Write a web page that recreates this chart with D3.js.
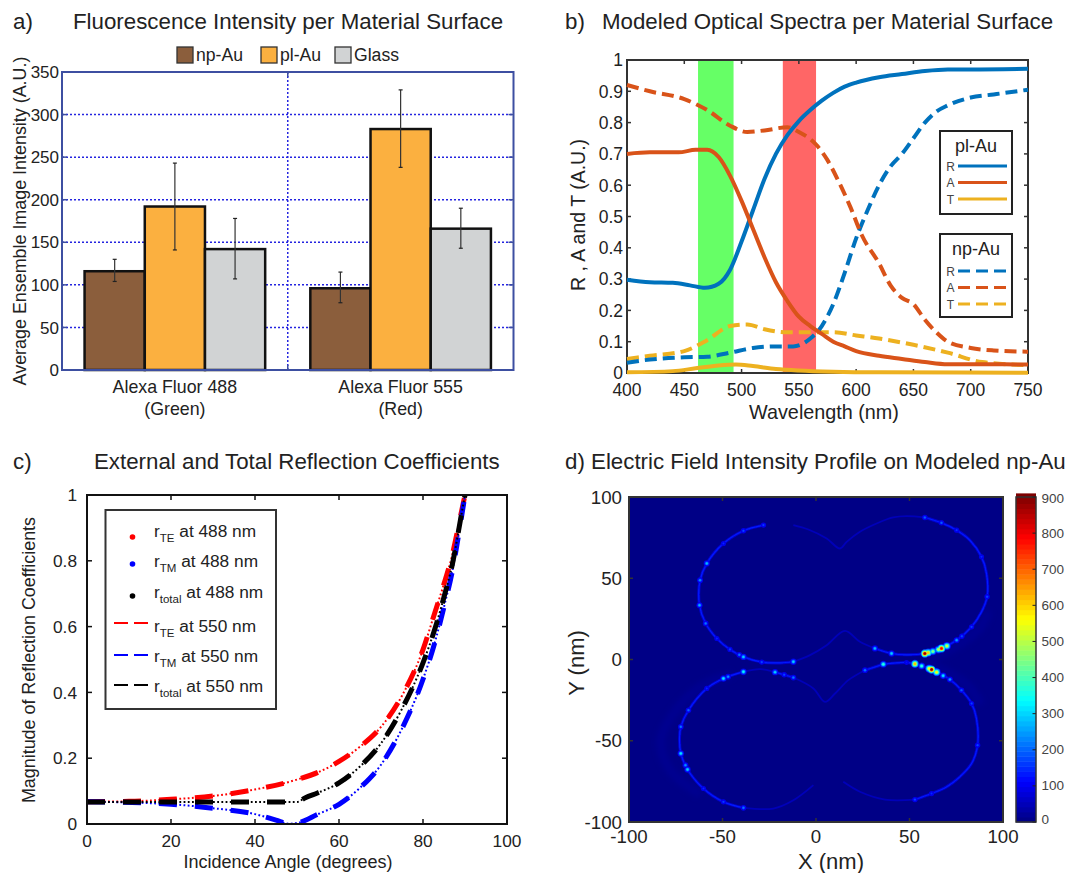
<!DOCTYPE html>
<html><head><meta charset="utf-8">
<script src="https://cdn.jsdelivr.net/npm/d3@7/dist/d3.min.js"></script>
<style>html,body{margin:0;background:#fff}svg{display:block}text{font-family:"Liberation Sans",Arial,sans-serif;fill:#222}</style>
</head><body><svg id="c" width="1067" height="873"></svg>
<script>
// Panel a
const dyes=["Alexa Fluor 488","Alexa Fluor 555"], dyeSub=["(Green)","(Red)"];
const surfaces=["np-Au","pl-Au","Glass"];
const surfaceColors=["#8b5e3c","#fbb040","#d1d3d4"];
const means=[[116,192,142],[96,283,166]];
const errLow=[[104,141,107],[79,238,143]];
const errHigh=[[130,243,178],[115,329,190]];
const aTicks=[0,50,100,150,200,250,300,350];
// Panel b
const waveR=[400,420,440,455,468,480,490,500,510,520,530,540,550,560,570,580,590,600,620,640,660,680,700,750];
const plR=[.298,.29,.288,.28,.272,.285,.33,.42,.52,.62,.70,.76,.805,.84,.87,.895,.915,.928,.945,.955,.965,.97,.97,.972];
const waveA=[400,420,445,460,470,480,490,500,510,520,530,540,550,560,570,580,590,600,620,640,660,680,700,750];
const plA=[.70,.705,.705,.713,.713,.69,.63,.55,.46,.37,.29,.23,.18,.15,.125,.10,.085,.07,.055,.045,.035,.028,.028,.027];
const waveT=[400,440,460,480,495,510,530,550,580,620,750];
const plT=[.002,.006,.015,.024,.027,.022,.013,.008,.004,.002,.001];
const waveNR=[400,420,450,470,490,510,530,545,560,570,580,590,600,610,620,630,640,650,660,670,680,700,720,750];
const npR=[.033,.043,.05,.052,.065,.08,.085,.085,.11,.15,.22,.32,.43,.52,.6,.66,.70,.75,.80,.835,.855,.88,.89,.905];
const waveNA=[400,420,450,470,490,505,520,540,550,565,575,585,595,605,620,630,640,650,660,670,680,700,720,750];
const npA=[.92,.90,.875,.84,.79,.77,.775,.785,.77,.73,.68,.61,.53,.44,.35,.28,.24,.22,.17,.13,.10,.08,.072,.068];
const waveNT=[400,420,450,470,490,505,520,540,560,580,600,620,650,680,710,750];
const npT=[.045,.055,.07,.105,.15,.155,.14,.13,.13,.13,.12,.11,.09,.065,.035,.025];
const greenBand=[462,493], redBand=[536,565];
const bYTicks=[0,.1,.2,.3,.4,.5,.6,.7,.8,.9,1], bXTicks=[400,450,500,550,600,650,700,750];
const bColors={R:"#0072bd",A:"#d95319",T:"#edb120"};
// Panel c
const angTE=[0,10,20,30,40,50,55,60,65,70,75,80,83,85,87,89,90];
const rTE=[.068,.069,.075,.085,.105,.135,.157,.19,.235,.295,.39,.53,.65,.73,.82,.94,1];
const angTM=[0,20,30,40,45,48,50,55,60,65,70,75,80,83,85,87,89,90];
const rTM=[.068,.06,.048,.03,.012,.001,.003,.03,.06,.11,.18,.29,.44,.56,.66,.77,.92,1];
const angTot=[0,20,40,50,52,55,60,65,70,75,80,83,85,87,89,90];
const rTot=[.067,.067,.067,.067,.08,.095,.125,.175,.245,.35,.49,.60,.69,.79,.93,1];
const cXTicks=[0,20,40,60,80,100], cYTicks=[0,.2,.4,.6,.8,1];
// Panel d: outlines read in nm [x,y]
const lobeStrong=[
 [[-28.1,82.7],[-38.8,79.2],[-49.5,71.4],[-58.4,59.1],[-62,48.8],[-62.3,33.4],[-59,22.2],[-53,12.9],[-46,6.2],[-38.8,1.6],[-29,-1.6],[-19.2,-2.1],[-12.1,-1.4]],
 [[31.5,6.8],[40.4,3.7],[48.4,2.9],[58.2,3.7],[67.1,6.8],[75.2,11.9],[83.2,20.1],[88.5,29.3],[91.5,38.6],[91.2,52.9],[88.5,63.2],[82.3,73.4],[75.2,79.6],[67.1,84.1],[58.2,87.4]],
 [[36,-2.9],[48.4,-1.8],[52.9,-2.7],[61.8,-6.2],[71.6,-12.3],[77.8,-18.9],[83.2,-27.1],[85.8,-36.3],[86.4,-52.7],[83.2,-64],[76.9,-72.2],[69.8,-78.4],[61.8,-82.5],[52.9,-86.2]],
 [[-38.8,-7.6],[-49.5,-11.7],[-58.4,-17.8],[-68.2,-31.2],[-72.3,-41.4],[-73,-48.6],[-72.3,-57.8],[-68.7,-67.7],[-60.2,-79.4],[-49.5,-87.6],[-38.8,-91.3]],
 [[26.2,-6.6],[36,-2.9]],
 [[-21.9,-7.8],[-12.1,-11.1]]
];
const lobeFaint=[
 [[-12.1,-1.4],[-3.2,2.7],[5.7,8.8],[15.5,17.6],[23.5,10.9],[31.5,6.8]],
 [[58.2,87.4],[48.4,88.2],[41.3,87.4],[32.4,83.7],[23.5,78.6],[16.4,72.4],[12.8,68.3],[5.7,74.5],[-4.1,80],[-12.1,82.7]],
 [[52.9,-86.2],[36.9,-86.2],[23.5,-81.4],[14.6,-75.3]],
 [[26.2,-6.6],[17.3,-12.7],[10.2,-20.9],[4.8,-26.1],[-1.4,-17.8],[-12.1,-11.1]],
 [[-38.8,-7.6],[-29.9,-5.9],[-21.9,-7.8]],
 [[-38.8,-91.3],[-22.8,-91.7],[-12.1,-86.6],[-1.4,-77.3]]
];
const halos=[
 [[-45,-9],[-62,-17],[-76,-33],[-83,-50],[-78,-68],[-62,-83]],
 [[62,1],[75,8],[88,20],[92,30]],
 [[58,-2],[72,-9],[82,-17],[88,-28]]
];
const hotspots=[[58.2,3.7,880],[60,4.2,600],[62.5,5,450],[67.1,6.8,800],[65.5,6.1,500],[70,8.3,520],[75.2,11.9,250],[78,14.3,180],[52.9,-2.7,620],[56.5,-4,380],[61.8,-6.2,880],[60.5,-5.6,560],[64.5,-7.8,550],[68,-10,320],[71.6,-12.3,250],
[40.4,3.7,300],[31.5,6.8,280],[36,-2.9,380],[26.2,-6.6,220],[-38.8,1.6,300],[-41,2.9,220],[-12.1,-1.4,300],[-29,-1.6,180],[-38.8,-7.6,340],[-49.5,-11.7,320],[-47,-10.6,240],[-21.9,-7.8,300],[-12.1,-11.1,220],[-17,-9.4,180],
[-58.4,59.1,280],[-62,48.8,240],[-62.3,33.4,270],[-59,22.2,220],[-72.3,-41.4,220],[-72.3,-57.8,320],[-68.7,-67.7,300],[-69.8,-65,240],[-68.2,-31.2,200],[-38.8,-91.3,220],[-49.5,-87.6,170],
[58.2,87.4,200],[67.1,84.1,200],[91.5,38.6,180],[86.4,-52.7,180],[52.9,-86.2,180],[-38.8,79.2,180],[-28.1,82.7,170],[-46,6.2,170],[-53,12.9,150],[-49.5,71.4,150],[-58.4,-17.8,150],[-60.2,-79.4,150],[83.2,-27.1,170],[77.8,-18.9,190],[61.8,-82.5,150],[75.2,79.6,160],[88.5,63.2,150],[83.2,20.1,170],[48.4,-1.8,120]];
const dTicks=[-100,-50,0,50,100], cbTicks=[0,100,200,300,400,500,600,700,800,900];
const backgroundValue=5;

const svg=d3.select("#c");
function title(x,y,t,size){svg.append("text").attr("x",x).attr("y",y).attr("font-size",size||22.3).text(t);}
function vlabel(x,y,t,size){svg.append("text").attr("transform",`translate(${x},${y}) rotate(-90)`).attr("text-anchor","middle").attr("font-size",size).text(t);}
function hlabel(x,y,t,size){svg.append("text").attr("x",x).attr("y",y).attr("text-anchor","middle").attr("font-size",size).text(t);}

function frame(g,x,y,xt,yt,o){
 const col=o.color, [x0,x1]=x.range(), [y0,y1]=y.range(), L=o.tick||4;
 const sw=o.tickWidth||1.5;
 xt.forEach(v=>{[[y0,y0-L],[y1,y1+L]].forEach(p=>g.append("line").attr("x1",x(v)).attr("x2",x(v)).attr("y1",p[0]).attr("y2",p[1]).attr("stroke",col).attr("stroke-width",sw));});
 yt.forEach(v=>{[[x0,x0+L],[x1,x1-L]].forEach(p=>g.append("line").attr("y1",y(v)).attr("y2",y(v)).attr("x1",p[0]).attr("x2",p[1]).attr("stroke",col).attr("stroke-width",sw));});
 g.append("rect").attr("x",x0).attr("y",y1).attr("width",x1-x0).attr("height",y0-y1).attr("fill","none").attr("stroke",col).attr("stroke-width",o.width||2);
 if(o.xLabels!==false) xt.forEach(v=>g.append("text").attr("x",x(v)).attr("y",y0+o.xdy).attr("text-anchor","middle").attr("font-size",o.fs).text(v));
 yt.forEach(v=>g.append("text").attr("x",x0-o.ydx).attr("y",y(v)+o.fs*.36).attr("text-anchor","end").attr("font-size",o.fs).text(+v.toFixed(1)));
}

/* ---------- a ---------- */
title(13,29,"a)");title(73,29,"Fluorescence Intensity per Material Surface");
{
 const g=svg.append("g"), L=62,R=513.5,T=72,B=370;
 const y=d3.scaleLinear().domain([0,350]).range([B,T]);
 const x0=d3.scaleBand().domain(dyes).range([L,R]).paddingInner(.2).paddingOuter(.1);
 const x1=d3.scaleBand().domain(surfaces).range([0,x0.bandwidth()]);
 const mid=(L+R)/2;
 aTicks.slice(1,-1).forEach(v=>g.append("line").attr("x1",L).attr("x2",R).attr("y1",y(v)).attr("y2",y(v)).attr("stroke","#2424e0").attr("stroke-width",1.5).attr("stroke-dasharray","2 2"));
 g.append("line").attr("x1",mid).attr("x2",mid).attr("y1",T).attr("y2",B).attr("stroke","#2424e0").attr("stroke-width",1.5).attr("stroke-dasharray","2 2");
 dyes.forEach((d,i)=>{
  surfaces.forEach((s,j)=>{
   const bx=x0(d)+x1(s);
   g.append("rect").attr("x",bx).attr("y",y(means[i][j])).attr("width",x1.bandwidth()).attr("height",y(0)-y(means[i][j])).attr("fill",surfaceColors[j]).attr("stroke","#111").attr("stroke-width",2.5);
  });
 });
 dyes.forEach((d,i)=>surfaces.forEach((s,j)=>{
  const cx=x0(d)+x1(s)+x1.bandwidth()/2;
  g.append("line").attr("x1",cx).attr("x2",cx).attr("y1",y(errLow[i][j])).attr("y2",y(errHigh[i][j])).attr("stroke","#333").attr("stroke-width",1.2);
  [errLow[i][j],errHigh[i][j]].forEach(v=>g.append("line").attr("x1",cx-2).attr("x2",cx+2).attr("y1",y(v)).attr("y2",y(v)).attr("stroke","#222").attr("stroke-width",1.2));
 }));
 const xf=d3.scaleLinear().domain([L,R]).range([L,R]);
 frame(g,xf,y,[mid],aTicks,{color:"#3d4fa1",width:2,tickWidth:1.5,xLabels:false,fs:17,ydx:3,xdy:0,tick:5});
 dyes.forEach((d,i)=>{
  const cx=x0(d)+x0.bandwidth()/2;
  hlabel(cx,393,d,17.8);hlabel(cx,415,dyeSub[i],17.8);
 });
 vlabel(26,221,"Average Ensemble Image Intensity (A.U.)",17.9);
 const lx=[177,261,335];
 surfaces.forEach((s,j)=>{
  svg.append("rect").attr("x",lx[j]).attr("y",47).attr("width",16).attr("height",16).attr("fill",surfaceColors[j]).attr("stroke","#333").attr("stroke-width",1.3);
  svg.append("text").attr("x",lx[j]+19).attr("y",61).attr("font-size",17.6).text(s);
 });
}

/* ---------- b ---------- */
title(565,29,"b)");title(602,29,"Modeled Optical Spectra per Material Surface");
{
 const g=svg.append("g"),L=627,R=1028,T=60,B=373;
 const x=d3.scaleLinear().domain([400,750]).range([L,R]);
 const y=d3.scaleLinear().domain([0,1]).range([B,T]);
 g.append("rect").attr("x",x(greenBand[0])).attr("width",x(greenBand[1])-x(greenBand[0])).attr("y",T).attr("height",B-T).attr("fill","#66ff66");
 g.append("rect").attr("x",x(redBand[0])).attr("width",x(redBand[1])-x(redBand[0])).attr("y",T).attr("height",B-T).attr("fill","#ff6666");
 frame(g,x,y,bXTicks,bYTicks,{color:"#333",width:2,tickWidth:1.5,fs:17.5,ydx:4,xdy:22.5,tick:4});
 const line=(xs,ys)=>d3.line().curve(d3.curveMonotoneX).x(d=>x(d)).y((d,i)=>y(ys[i]))(xs);
 const dash="12 6";
 [[waveNT,npT,"T"],[waveNR,npR,"R"],[waveNA,npA,"A"]].forEach(s=>g.append("path").attr("d",line(s[0],s[1])).attr("fill","none").attr("stroke",bColors[s[2]]).attr("stroke-width",4).attr("stroke-dasharray",dash));
 [[waveR,plR,"R"],[waveA,plA,"A"],[waveT,plT,"T"]].forEach(s=>g.append("path").attr("d",line(s[0],s[1])).attr("fill","none").attr("stroke",bColors[s[2]]).attr("stroke-width",4));
 vlabel(585,215,"R , A and T (A.U.)",19.5);
 hlabel(824,419,"Wavelength (nm)",19.8);
 const legend=(top,name,d,off)=>{
  g.append("rect").attr("x",940).attr("y",top).attr("width",72).attr("height",83).attr("fill","#fff").attr("stroke","#222").attr("stroke-width",2);
  g.append("text").attr("x",976).attr("y",top+21).attr("text-anchor","middle").attr("font-size",18).text(name);
  ["R","A","T"].forEach((k,i)=>{
   const yy=top+off+i*16.5;
   g.append("text").attr("x",950.5).attr("y",yy+4.5).attr("text-anchor","middle").attr("font-size",12).style("fill","#444").text(k);
   g.append("line").attr("x1",958).attr("x2",1007).attr("y1",yy).attr("y2",yy).attr("stroke",bColors[k]).attr("stroke-width",3).attr("stroke-dasharray",d);
  });
 };
 legend(131,"pl-Au",null,35);legend(234,"np-Au","12 6",37);
}

/* ---------- c ---------- */
title(13,469,"c)");title(94,469,"External and Total Reflection Coefficients");
{
 const g=svg.append("g"),L=87,R=507,T=495,B=824;
 const x=d3.scaleLinear().domain([0,100]).range([L,R]);
 const y=d3.scaleLinear().domain([0,1]).range([B,T]);
 svg.append("clipPath").attr("id","cc").append("rect").attr("x",L).attr("y",T).attr("width",R-L).attr("height",B-T);
 const line=(xs,ys)=>d3.line().curve(d3.curveMonotoneX).x(d=>x(d)).y((d,i)=>y(ys[i]))(xs);
 const series=[[angTE,rTE,"#ff0000"],[angTM,rTM,"#0000ff"],[angTot,rTot,"#000"]];
 const pg=g.append("g").attr("clip-path","url(#cc)");
 series.forEach(s=>{
  pg.append("path").attr("d",line(s[0],s[1])).attr("fill","none").attr("stroke",s[2]).attr("stroke-width",2).attr("stroke-dasharray","1.8 2.4");
  pg.append("path").attr("d",line(s[0],s[1])).attr("fill","none").attr("stroke",s[2]).attr("stroke-width",5).attr("stroke-dasharray","18 18");
 });
 frame(g,x,y,cXTicks,cYTicks,{color:"#111",width:2,tickWidth:1.5,fs:17.3,ydx:10,xdy:23,tick:5});
 vlabel(35,660,"Magnitude of Reflection Coefficients",17.9);
 hlabel(288,868,"Incidence Angle (degrees)",18);
 g.append("rect").attr("x",105.5).attr("y",510).attr("width",170.5).attr("height",199).attr("fill","#fff").attr("stroke","#333").attr("stroke-width",2);
 const rows=[["TE","488 nm","#ff0000",0,537],["TM","488 nm","#0000ff",0,567],["total","488 nm","#000",0,598],["TE","550 nm","#ff0000",1,632],["TM","550 nm","#0000ff",1,662],["total","550 nm","#000",1,692]];
 const lineY=[0,0,0,623,655,685];
 rows.forEach((r,i)=>{
  if(!r[3]) g.append("circle").attr("cx",132.5).attr("cy",[537,564,596][i]).attr("r",2.8).attr("fill",r[2]);
  else g.append("line").attr("x1",114).attr("x2",148).attr("y1",lineY[i]).attr("y2",lineY[i]).attr("stroke",r[2]).attr("stroke-width",2.2).attr("stroke-dasharray","14 6");
  const t=g.append("text").attr("x",154).attr("y",r[4]).attr("font-size",17.3);
  t.append("tspan").text("r");
  t.append("tspan").attr("dy",5).attr("font-size",11.5).text(r[0]);
  t.append("tspan").attr("dy",-5).text(" at "+r[1]);
 });
}

/* ---------- d ---------- */
title(565,469,"d) Electric Field Intensity Profile on Modeled np-Au");
{
 const g=svg.append("g"),L=629,R=1003,T=497,B=822;
 const x=d3.scaleLinear().domain([-100,100]).range([L,R]);
 const y=d3.scaleLinear().domain([-100,100]).range([B,T]);
 const jet=d3.scaleLinear().domain([0,112,337,450,562,787,900]).range(["#000080","#0000ff","#00ffff","#80ff80","#ffff00","#ff0000","#800000"]);
 const defs=svg.append("defs");
 defs.append("filter").attr("id","bl").attr("x","-20%").attr("y","-20%").attr("width","140%").attr("height","140%").append("feGaussianBlur").attr("stdDeviation",.7);
 defs.append("filter").attr("id","bl2").attr("x","-30%").attr("y","-30%").attr("width","160%").attr("height","160%").append("feGaussianBlur").attr("stdDeviation",2.5);
 defs.append("clipPath").attr("id","dc").append("rect").attr("x",L).attr("y",T).attr("width",R-L).attr("height",B-T);
 g.append("rect").attr("x",L).attr("y",T).attr("width",R-L).attr("height",B-T).attr("fill",jet(backgroundValue));
 const m=g.append("g").attr("clip-path","url(#dc)");
 const line=d3.line().curve(d3.curveCatmullRom).x(d=>x(d[0])).y(d=>y(d[1]));
 const hg=m.append("g").attr("filter","url(#bl2)");
 halos.forEach(h=>hg.append("path").attr("d",line(h)).attr("fill","none").attr("stroke",jet(14)).attr("stroke-width",9));
 const f=m.append("g").attr("filter","url(#bl)");
 lobeFaint.forEach(h=>f.append("path").attr("d",line(h)).attr("fill","none").attr("stroke",jet(50)).attr("stroke-width",1.8));
 lobeStrong.forEach(h=>{
  f.append("path").attr("d",line(h)).attr("fill","none").attr("stroke",jet(70)).attr("stroke-width",3);
  f.append("path").attr("d",line(h)).attr("fill","none").attr("stroke",jet(135)).attr("stroke-width",1.2);
 });
 const levels=[[.22,3.6],[.42,2.9],[.62,2.2],[.82,1.6],[1,1.1]];
 const sorted=hotspots.slice().sort((a,b)=>a[2]-b[2]);
 levels.forEach(l=>{
  sorted.forEach(h=>{
   const scale=Math.min(1.15,.55+h[2]/900);
   f.append("circle").attr("cx",x(h[0])).attr("cy",y(h[1])).attr("r",l[1]*scale).attr("fill",jet(Math.max(90,h[2]*l[0])));
  });
 });
 frame(g,x,y,dTicks,dTicks,{color:"#333",width:2,tickWidth:1.5,fs:18.7,ydx:7,xdy:21,tick:4});
 vlabel(584,663,"Y (nm)",22);
 hlabel(831,869,"X (nm)",22);
 const cy=d3.scaleLinear().domain([0,900]).range([B,T]);
 const cbL=1016,cbR=1036,levelsC=d3.range(0,900,14);
 g.selectAll(".cb").data(levelsC).join("rect").attr("x",cbL).attr("width",cbR-cbL).attr("y",d=>cy(d+14)).attr("height",d=>cy(d)-cy(d+14)+.5).attr("fill",d=>jet(d+7));
 g.append("rect").attr("x",cbL).attr("y",T).attr("width",cbR-cbL).attr("height",B-T).attr("fill","none").attr("stroke","#333").attr("stroke-width",1.5);
 cbTicks.forEach(v=>{
  g.append("line").attr("x1",cbR-3.5).attr("x2",cbR).attr("y1",cy(v)).attr("y2",cy(v)).attr("stroke","#222").attr("stroke-width",1);
  g.append("text").attr("x",1041.5).attr("y",cy(v)+(v==900?6:v==0?2:4.5)).attr("font-size",13.5).style("fill","#444").text(v);
 });
}
</script></body></html>
